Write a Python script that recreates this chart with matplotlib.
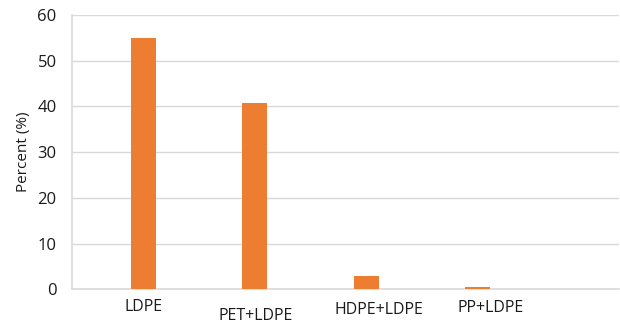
import numpy as np
import matplotlib.pyplot as plt

# Share of each plastic type
categories = ['LDPE', 'PET+LDPE', 'HDPE+LDPE', 'PP+LDPE']
percent = [55.0, 40.7, 2.9, 0.6]

# Small nudges for the category labels (x in bar units, y in pixels below axis)
label_dx = [0.0, 0.01, 0.12, 0.12]
label_dy = [18, 27, 21, 19]

plt.rcParams['font.family'] = ['Open Sans', 'DejaVu Sans']

fig = plt.figure(figsize=(6.2, 3.24), dpi=100)
ax = fig.add_axes([0.1161, 0.107, 0.882, 0.847])

x = np.arange(len(categories))
ax.bar(x, percent, width=0.225, color='#ED7D31', zorder=3)

ax.set_ylim(0, 60)
ax.set_yticks(np.arange(0, 61, 10))
ax.set_xlim(-0.642, 4.271)
ax.set_xticks([])
ax.grid(axis='y', color='#d9d9d9', linewidth=1.0, zorder=0)

for s in ['top', 'right']:
    ax.spines[s].set_visible(False)
for s in ['left', 'bottom']:
    ax.spines[s].set_color('#d9d9d9')
    ax.spines[s].set_linewidth(1.2)

ax.tick_params(axis='y', length=0, pad=11, labelsize=12, labelcolor='#1a1a1a')

# category labels drawn below the axis
trans = ax.get_xaxis_transform()
for xi, name, dx, dy in zip(x, categories, label_dx, label_dy):
    ax.annotate(name, xy=(xi + dx, 0), xycoords=trans,
                xytext=(0, -dy), textcoords='offset pixels',
                ha='center', va='center', fontsize=11.5, color='#1a1a1a')

ax.set_ylabel('Percent (%)', fontsize=11, color='#1a1a1a', labelpad=5)

fig.savefig('out.png', dpi=100)
